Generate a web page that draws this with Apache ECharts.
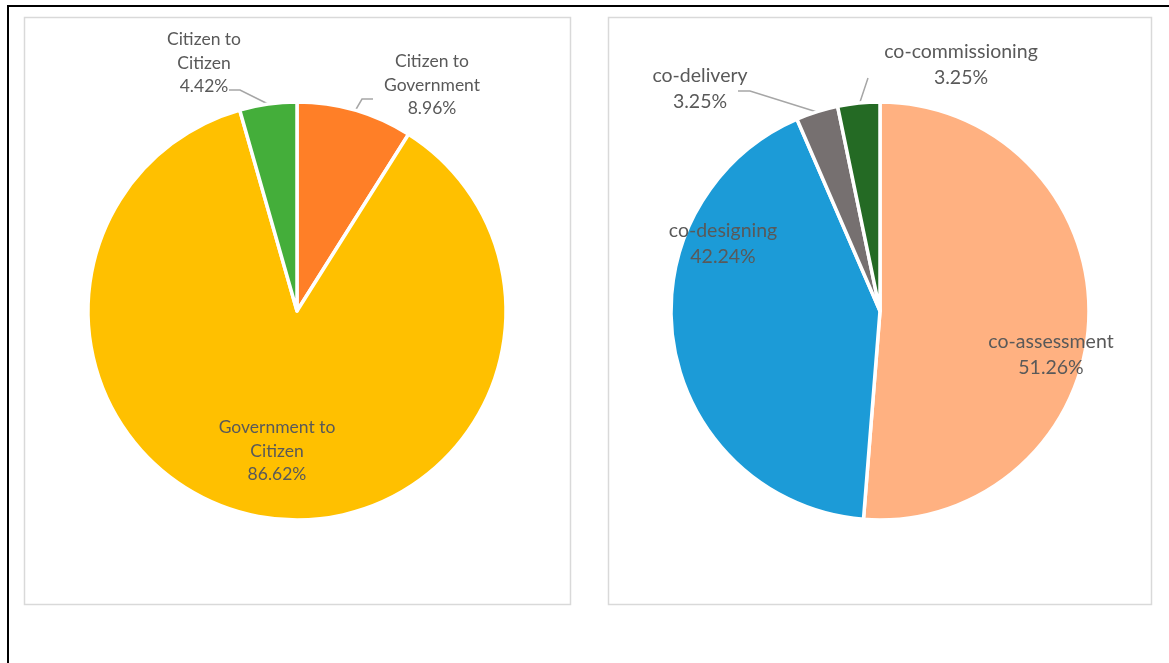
<!DOCTYPE html>
<html>
<head>
<meta charset="utf-8">
<script src="https://cdn.jsdelivr.net/npm/echarts@6/dist/echarts.min.js"></script>
<style>
html,body{margin:0;padding:0;background:#fff;}
#c{width:1169px;height:663px;}
</style>
</head>
<body>
<div id="c"></div>
<script>
// ---- data ----
const leftCategories = ['Citizen to Government', 'Government to Citizen', 'Citizen to Citizen'];
const leftValues = [8.96, 86.62, 4.42];
const leftColors = ['#FF7F27', '#FFC000', '#44AE3A'];

const rightCategories = ['co-assessment', 'co-designing', 'co-delivery', 'co-commissioning'];
const rightValues = [51.26, 42.24, 3.25, 3.25];
const rightColors = ['#FFB181', '#1C9BD7', '#767070', '#246A24'];

// ---- label placement (layout only) ----
const labelPlacement = {
  'Citizen to Government': {x: 432, y: 85, line: [[355, 111], [362, 99], [373, 99]]},
  'Government to Citizen': {x: 277, y: 451},
  'Citizen to Citizen': {x: 204, y: 63, line: [[268, 104], [240, 90], [229, 90]]},
  'co-assessment': {x: 1051, y: 355},
  'co-designing': {x: 723, y: 244},
  'co-delivery': {x: 700, y: 89, line: [[817, 112], [750, 91], [738, 91]]},
  'co-commissioning': {x: 961, y: 65, line: [[859, 105], [868, 78]]}
};

const chart = echarts.init(document.getElementById('c'), null, {renderer: 'canvas'});

function buildData(cats, vals, colors) {
  return cats.map((n, i) => ({
    name: n,
    value: vals[i],
    itemStyle: {color: colors[i]},
    label: {position: labelPlacement[n].line ? 'outside' : 'inside'},
    labelLine: {show: !!labelPlacement[n].line}
  }));
}

function makeLayout(cats) {
  return function (params) {
    const pl = labelPlacement[cats[params.dataIndex]];
    const r = {x: pl.x, y: pl.y, align: 'center', verticalAlign: 'middle'};
    if (pl.line) r.labelLinePoints = pl.line;
    return r;
  };
}

const fontFam = 'Lato, "Liberation Sans", sans-serif';

const option = {
  animation: false,
  backgroundColor: '#ffffff',
  graphic: [
    {type: 'line', shape: {x1: 8, y1: 6, x2: 1169, y2: 6}, style: {stroke: '#000', lineWidth: 2}, silent: true},
    {type: 'line', shape: {x1: 8, y1: 5, x2: 8, y2: 663}, style: {stroke: '#000', lineWidth: 2}, silent: true},
    {type: 'rect', shape: {x: 24.5, y: 17.5, width: 546, height: 587}, style: {fill: 'none', stroke: '#D9D9D9', lineWidth: 1.5}, silent: true, z: -1},
    {type: 'rect', shape: {x: 608.5, y: 17.5, width: 543, height: 587}, style: {fill: 'none', stroke: '#D9D9D9', lineWidth: 1.5}, silent: true, z: -1}
  ],
  series: [
    {
      type: 'pie',
      center: [297, 311],
      radius: [0, 209],
      startAngle: 90,
      clockwise: true,
      avoidLabelOverlap: false,
      emphasis: {disabled: true},
      itemStyle: {borderColor: '#fff', borderWidth: 3.5},
      label: {
        show: true,
        formatter: function (p) { return p.name.replace(' to ', ' to\n') + '\n' + p.value.toFixed(2) + '%'; },
        color: '#595959',
        fontFamily: fontFam,
        fontSize: 17.5,
        lineHeight: 23.5
      },
      labelLine: {show: true, lineStyle: {color: '#A6A6A6', width: 1.5}},
      labelLayout: makeLayout(leftCategories),
      data: buildData(leftCategories, leftValues, leftColors)
    },
    {
      type: 'pie',
      center: [880, 311],
      radius: [0, 209],
      startAngle: 90,
      clockwise: true,
      avoidLabelOverlap: false,
      emphasis: {disabled: true},
      itemStyle: {borderColor: '#fff', borderWidth: 3.5},
      label: {
        show: true,
        formatter: function (p) { return p.name + '\n' + p.value.toFixed(2) + '%'; },
        color: '#595959',
        fontFamily: fontFam,
        fontSize: 19.5,
        lineHeight: 26
      },
      labelLine: {show: true, lineStyle: {color: '#A6A6A6', width: 1.5}},
      labelLayout: makeLayout(rightCategories),
      data: buildData(rightCategories, rightValues, rightColors)
    }
  ]
};

chart.setOption(option);
</script>
</body>
</html>
